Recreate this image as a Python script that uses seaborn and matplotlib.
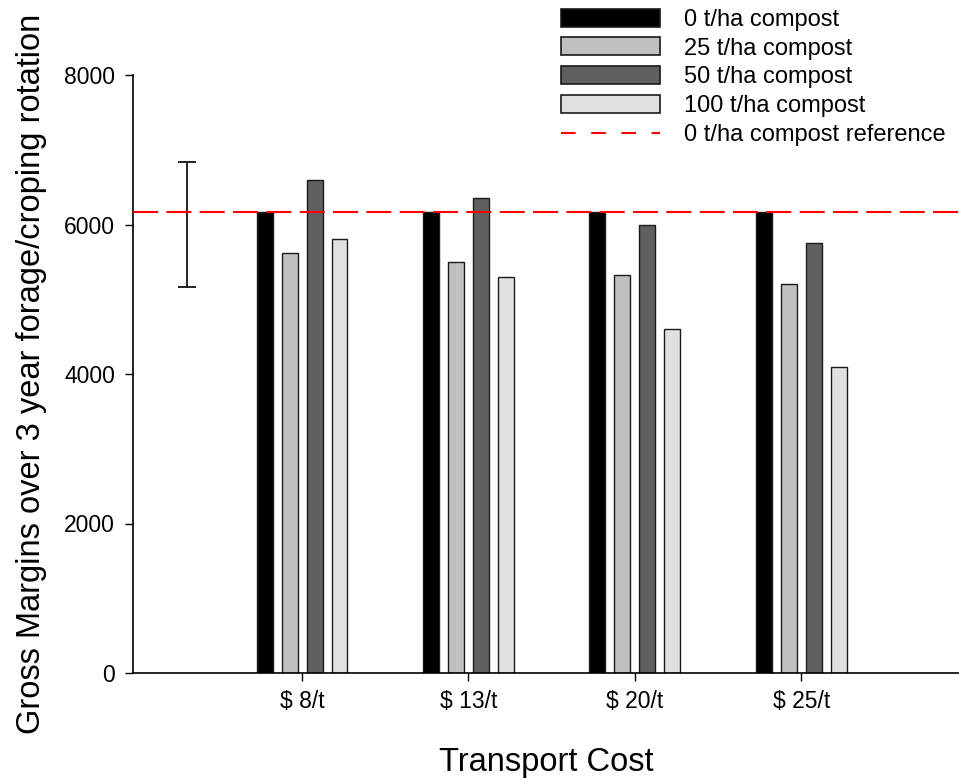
import numpy as np
import pandas as pd
import seaborn as sns
import matplotlib
matplotlib.use("Agg")
import matplotlib.pyplot as plt
from matplotlib.lines import Line2D

# data
costs = ["$ 8/t", "$ 13/t", "$ 20/t", "$ 25/t"]
rates = ["0 t/ha compost", "25 t/ha compost", "50 t/ha compost", "100 t/ha compost"]
gm_0 = [6170, 6170, 6170, 6170]
gm_25 = [5620, 5500, 5320, 5200]
gm_50 = [6600, 6350, 6000, 5750]
gm_100 = [5800, 5300, 4600, 4100]
reference = 6170
err_center = 6000
err_half = 840
bar_colors = ["#000000", "#c0c0c0", "#606060", "#e0e0e0"]

rows = []
for rate, vals in zip(rates, [gm_0, gm_25, gm_50, gm_100]):
    for c, v in zip(costs, vals):
        rows.append({"cost": c, "rate": rate, "gm": v})
df = pd.DataFrame(rows)

sns.set_style("ticks")
plt.rcParams["font.family"] = ["Liberation Sans", "DejaVu Sans"]
plt.rcParams["text.color"] = "black"
plt.rcParams["axes.labelcolor"] = "black"

fig = plt.figure(figsize=(9.59, 7.78), dpi=100)
ax = fig.add_axes([133 / 959, 1 - 673 / 778, 826 / 959, 598 / 778])

sns.barplot(data=df, x="cost", y="gm", hue="rate", order=costs, hue_order=rates,
            palette=bar_colors, width=0.6, gap=0.36, edgecolor="#1a1a1a",
            linewidth=1.0, legend=False, ax=ax)

ax.axhline(reference, color="#ff0000", lw=1.5, dashes=(12, 4), zorder=5)
ax.errorbar([-0.69], [err_center], yerr=[err_half], fmt="none", ecolor="black",
            elinewidth=1.2, capsize=6.5, capthick=1.2)

ax.set_xlim(-1.016, 3.948)
ax.set_ylim(0, 8000)
ax.set_yticks([0, 2000, 4000, 6000, 8000])
ax.tick_params(axis="both", labelsize=16.5, length=6, width=1, color="black",
               labelcolor="black", direction="out")
ax.tick_params(axis="x", pad=6)
ax.tick_params(axis="y", pad=7)
for side in ["top", "right"]:
    ax.spines[side].set_visible(False)
for side in ["left", "bottom"]:
    ax.spines[side].set_linewidth(1.2)
    ax.spines[side].set_color("black")

ax.set_xlabel("Transport Cost", fontsize=23.5, labelpad=25)
ax.set_ylabel("Gross Margins over 3 year forage/croping rotation", fontsize=23.5,
              labelpad=12)

handles = [plt.Rectangle((0, 0), 1, 1, facecolor=c, edgecolor="#1a1a1a", lw=1.2)
           for c in bar_colors]
handles.append(Line2D([], [], color="#ff0000", lw=1.5, dashes=(7, 7.5)))
labels = rates + ["0 t/ha compost reference"]
fig.legend(handles, labels, loc="upper left", bbox_to_anchor=(561 / 959, 0.989),
           frameon=False, fontsize=17, handlelength=4.2, handleheight=0.8,
           handletextpad=1.0, labelspacing=0.28, borderpad=0, borderaxespad=0)

fig.savefig("out.png", dpi=100)
